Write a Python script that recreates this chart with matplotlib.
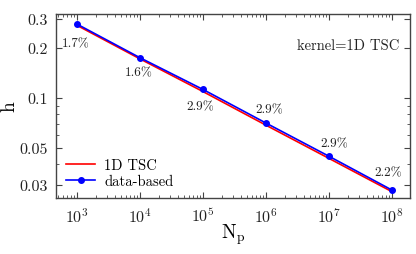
import numpy as np
import matplotlib
matplotlib.use("Agg")
import matplotlib.pyplot as plt
from matplotlib.ticker import LogLocator, FixedLocator, FixedFormatter, NullFormatter

plt.rcParams['font.family'] = ['cmr10', 'DejaVu Serif']
plt.rcParams['mathtext.fontset'] = 'cm'
plt.rcParams['axes.formatter.use_mathtext'] = True

# donnees
n_p = [1e3, 1e4, 1e5, 1e6, 1e7, 1e8]
h_data = [0.279, 0.175, 0.1127, 0.0707, 0.0446, 0.0279]
ecart = [1.7, 1.6, 2.9, 2.9, 2.9, 2.2]  # en %
h_tsc = [h * (1 - e / 100) for h, e in zip(h_data, ecart)]
y_ticks = [0.03, 0.05, 0.1, 0.2, 0.3]
y_ticklabels = ["0.03", "0.05", "0.1", "0.2", "0.3"]

# decalage des etiquettes (points)
decal = [(-1, -14), (-1, -10.5), (-2, -12), (2, 10), (4, 9.5), (-3, 13)]

gris = '#444444'
fig = plt.figure(figsize=(4.16, 2.55), dpi=100)
ax = fig.add_axes([56 / 416, 1 - 199 / 255, 354 / 416, 184 / 255])

ax.plot(n_p, h_tsc, color='red', lw=1.2, label='1D TSC')
ax.plot(n_p, h_data, color='blue', lw=1.2, marker='o', ms=4, label='data-based')

for x, y, e, d in zip(n_p, h_data, ecart, decal):
    ax.annotate(f"{e}%", (x, y), xytext=d, textcoords='offset points',
                ha='center', va='center', fontsize=9.5, color='#222222')

ax.set_xscale('log')
ax.set_yscale('log')
ax.set_xlim(10 ** 2.667, 10 ** 8.286)
ax.set_ylim(0.025, 0.321)

ax.yaxis.set_major_locator(FixedLocator(y_ticks))
ax.yaxis.set_major_formatter(FixedFormatter(y_ticklabels))
ax.yaxis.set_minor_locator(LogLocator(base=10, subs=np.arange(2, 10), numticks=20))
ax.yaxis.set_minor_formatter(NullFormatter())
ax.xaxis.set_major_locator(LogLocator(base=10, numticks=20))
ax.xaxis.set_minor_locator(LogLocator(base=10, subs=np.arange(2, 10), numticks=20))
ax.xaxis.set_minor_formatter(NullFormatter())

ax.tick_params(which='both', direction='in', top=True, right=True, color=gris,
               labelsize=11.5, labelcolor='#222222')
ax.tick_params(which='major', length=4, pad=6)
ax.tick_params(which='minor', length=2)
for s in ax.spines.values():
    s.set_color(gris)
    s.set_linewidth(1.0)

ax.set_xlabel(r"$\mathrm{N_p}$", fontsize=14)
ax.set_ylabel("h", fontsize=14)
ax.xaxis.set_label_coords(0.5, -0.125)
ax.yaxis.set_label_coords(-0.105, 0.5)

ax.text(0.97, 0.83, "kernel=1D TSC", transform=ax.transAxes, ha='right',
        va='center', fontsize=10.5, color='#222222')

ax.legend(loc='lower left', frameon=False, fontsize=10.5, handlelength=2.0,
          handletextpad=0.6, labelspacing=0.15, borderaxespad=0.3)

fig.savefig("out.png", dpi=100)
